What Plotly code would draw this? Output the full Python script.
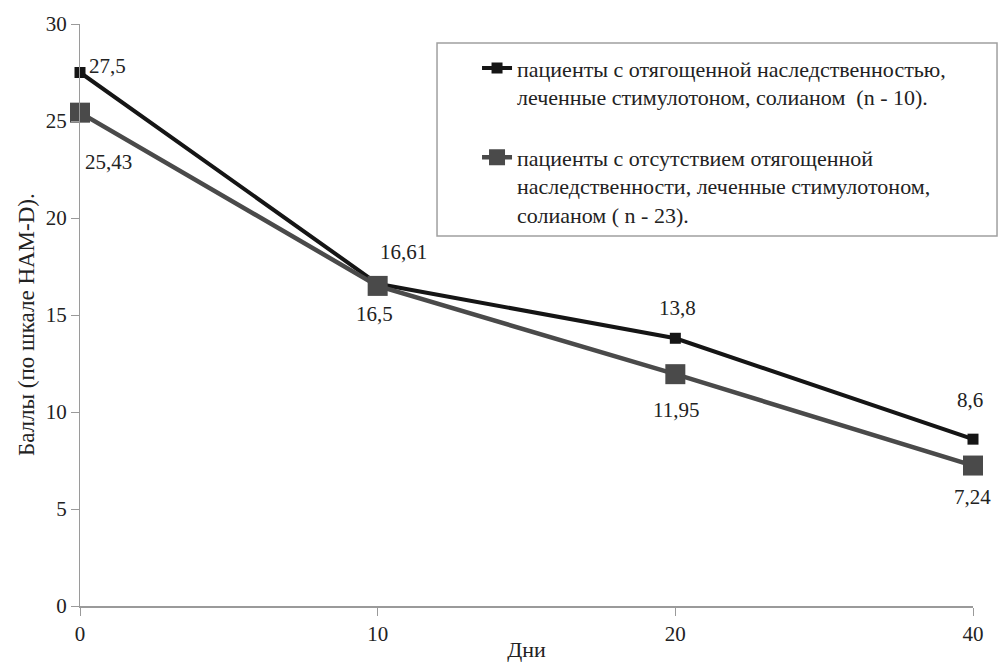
import plotly.graph_objects as go

days = ["0", "10", "20", "40"]
series1_name = "пациенты с отягощенной наследственностью,<br>леченные стимулотоном, солианом  (n - 10)."
series1_values = [27.5, 16.61, 13.8, 8.6]
series2_name = "пациенты с отсутствием отягощенной<br>наследственности, леченные стимулотоном,<br>солианом ( n - 23)."
series2_values = [25.43, 16.5, 11.95, 7.24]
y_ticks = [0, 5, 10, 15, 20, 25, 30]

FONT = "Liberation Serif"
C1 = "#151515"
C2 = "#4a4a4a"
AX = "#9a9a9a"
TXT = "#222"

fig = go.Figure()
fig.add_trace(go.Scatter(
    x=days, y=series1_values, mode="lines+markers", name=series1_name,
    line=dict(color=C1, width=4), marker=dict(symbol="square", size=11, color=C1),
    cliponaxis=False, legendgroup="a"))
fig.add_trace(go.Scatter(
    x=days, y=series2_values, mode="lines+markers", name=series2_name,
    line=dict(color=C2, width=4.5), marker=dict(symbol="square", size=20, color=C2),
    cliponaxis=False, legendgroup="b"))

def fmt(v):
    return str(v).replace(".", ",")

shifts1 = [(27, 7), (26, 32), (2, 30), (-3, 39)]
shifts2 = [(28, -49), (-3, -28), (1, -36), (-1, -31)]
for i, (v, (dx, dy)) in enumerate(zip(series1_values, shifts1)):
    fig.add_annotation(x=i, y=v, text=fmt(v), showarrow=False, xshift=dx, yshift=dy,
                       font=dict(family=FONT, size=21, color=TXT))
for i, (v, (dx, dy)) in enumerate(zip(series2_values, shifts2)):
    fig.add_annotation(x=i, y=v, text=fmt(v), showarrow=False, xshift=dx, yshift=dy,
                       font=dict(family=FONT, size=21, color=TXT))

# y-axis title
fig.add_annotation(xref="paper", yref="paper", x=-0.0605, y=0.4845, xanchor="center", yanchor="middle",
                   text="Баллы (по шкале HAM-D).",
                   textangle=-90, showarrow=False, font=dict(family=FONT, size=23, color=TXT))

# legend frame
fig.add_shape(type="rect", xref="paper", yref="paper", x0=0.3998, x1=1.0269, y0=0.6357, y1=0.9674,
              line=dict(color="#a0a0a0", width=1.5), fillcolor="rgba(0,0,0,0)")

fig.update_layout(
    width=1002, height=662,
    margin=dict(l=80, r=29, t=24, b=56, autoexpand=False),
    paper_bgcolor="white", plot_bgcolor="white",
    font=dict(family=FONT, size=21, color=TXT),
    showlegend=True,
    legend=dict(x=0.4446, y=0.96, xanchor="left", yanchor="top", bgcolor="rgba(0,0,0,0)",
                borderwidth=0, valign="top", traceorder="grouped", tracegroupgap=29,
                font=dict(family=FONT, size=22, color=TXT)),
    xaxis=dict(type="category", range=[0, 3], showline=True, linecolor=AX, linewidth=2,
               ticks="outside", ticklen=8, tickcolor=AX, showgrid=False, zeroline=False,
               automargin=False,
               title=dict(text="Дни", font=dict(family=FONT, size=22), standoff=0),
               tickfont=dict(family=FONT, size=21)),
    yaxis=dict(range=[0, 30], tickvals=y_ticks, showline=True, linecolor=AX, linewidth=1,
               ticks="outside", ticklen=8, tickcolor=AX, showgrid=False, zeroline=False,
               automargin=False,
               tickfont=dict(family=FONT, size=21)),
)

fig.write_html("out.html", config={"displayModeBar": False},
               post_script="document.body.style.margin='0';")
